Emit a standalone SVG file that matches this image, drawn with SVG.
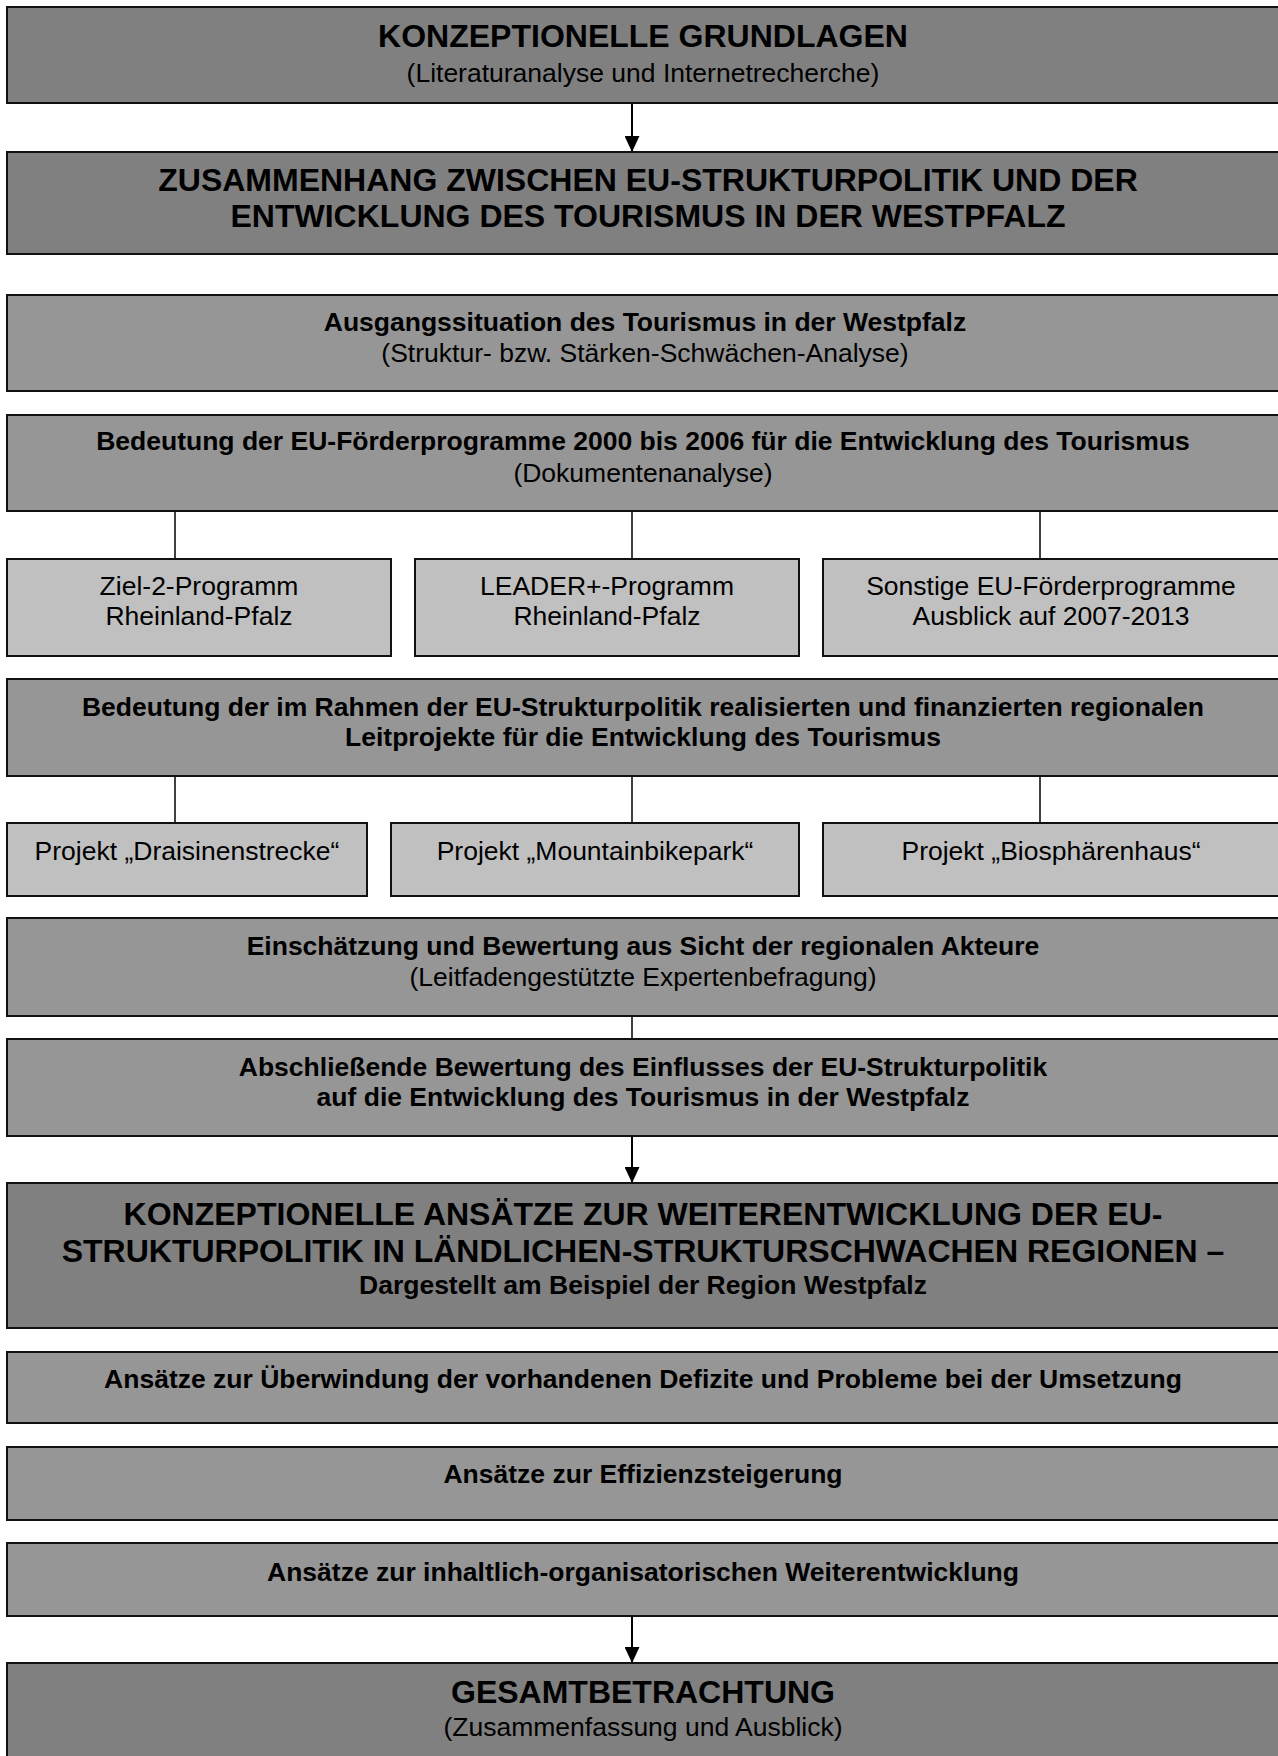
<svg xmlns="http://www.w3.org/2000/svg" width="1278" height="1756" viewBox="0 0 1278 1756">
<style>
.box{stroke:#111;stroke-width:2}
.dark{fill:#808080}
.mid{fill:#969696}
.light{fill:#c0c0c0}
text{font-family:"Liberation Sans",Arial,sans-serif;fill:#000;text-anchor:middle}
.t1{font-size:32px;font-weight:bold}
.t2{font-size:26.5px;font-weight:bold}
.t3{font-size:26.5px}
.con{stroke:#000;stroke-width:1.5;fill:none}
.arr{stroke:#000;stroke-width:2;fill:none;marker-end:url(#ah)}
</style>
<defs>
<marker id="ah" viewBox="0 0 16 15" refX="16" refY="7.5" markerWidth="16" markerHeight="15" markerUnits="userSpaceOnUse" orient="auto">
<path d="M0,0 L16,7.5 L0,15 z" fill="#000"/>
</marker>
</defs>
<rect width="1278" height="1756" fill="#fff"/>
<g id="connectors">
<line class="arr" x1="632" y1="104" x2="632" y2="152"/>
<line class="con" x1="175" y1="511" x2="175" y2="559"/>
<line class="con" x1="632" y1="511" x2="632" y2="559"/>
<line class="con" x1="1040" y1="511" x2="1040" y2="559"/>
<line class="con" x1="175" y1="776" x2="175" y2="823"/>
<line class="con" x1="632" y1="776" x2="632" y2="823"/>
<line class="con" x1="1040" y1="776" x2="1040" y2="823"/>
<line class="con" x1="632" y1="1016" x2="632" y2="1039"/>
<line class="arr" x1="632" y1="1136" x2="632" y2="1183"/>
<line class="arr" x1="632" y1="1616" x2="632" y2="1663"/>
</g>
<g id="n1">
<rect class="box dark" x="7" y="7" width="1273" height="96"/>
<text class="t1" x="643" y="47">KONZEPTIONELLE GRUNDLAGEN</text>
<text class="t3" x="643" y="82">(Literaturanalyse und Internetrecherche)</text>
</g>
<g id="n2">
<rect class="box dark" x="7" y="152" width="1273" height="102"/>
<text class="t1" x="648" y="191">ZUSAMMENHANG ZWISCHEN EU-STRUKTURPOLITIK UND DER</text>
<text class="t1" x="648" y="227">ENTWICKLUNG DES TOURISMUS IN DER WESTPFALZ</text>
</g>
<g id="n3">
<rect class="box mid" x="7" y="295" width="1273" height="96"/>
<text class="t2" x="645" y="331">Ausgangssituation des Tourismus in der Westpfalz</text>
<text class="t3" x="645" y="362">(Struktur- bzw. Stärken-Schwächen-Analyse)</text>
</g>
<g id="n4">
<rect class="box mid" x="7" y="415" width="1273" height="96"/>
<text class="t2" x="643" y="450">Bedeutung der EU-Förderprogramme 2000 bis 2006 für die Entwicklung des Tourismus</text>
<text class="t3" x="643" y="482">(Dokumentenanalyse)</text>
</g>
<g id="n4a">
<rect class="box light" x="7" y="559" width="384" height="97"/>
<text class="t3" x="199" y="595">Ziel-2-Programm</text>
<text class="t3" x="199" y="625">Rheinland-Pfalz</text>
</g>
<g id="n4b">
<rect class="box light" x="415" y="559" width="384" height="97"/>
<text class="t3" x="607" y="595">LEADER+-Programm</text>
<text class="t3" x="607" y="625">Rheinland-Pfalz</text>
</g>
<g id="n4c">
<rect class="box light" x="823" y="559" width="457" height="97"/>
<text class="t3" x="1051" y="595">Sonstige EU-Förderprogramme</text>
<text class="t3" x="1051" y="625">Ausblick auf 2007-2013</text>
</g>
<g id="n5">
<rect class="box mid" x="7" y="679" width="1273" height="97"/>
<text class="t2" x="643" y="716">Bedeutung der im Rahmen der EU-Strukturpolitik realisierten und finanzierten regionalen</text>
<text class="t2" x="643" y="746">Leitprojekte für die Entwicklung des Tourismus</text>
</g>
<g id="n5a">
<rect class="box light" x="7" y="823" width="360" height="73"/>
<text class="t3" x="187" y="860">Projekt „Draisinenstrecke“</text>
</g>
<g id="n5b">
<rect class="box light" x="391" y="823" width="408" height="73"/>
<text class="t3" x="595" y="860">Projekt „Mountainbikepark“</text>
</g>
<g id="n5c">
<rect class="box light" x="823" y="823" width="457" height="73"/>
<text class="t3" x="1051" y="860">Projekt „Biosphärenhaus“</text>
</g>
<g id="n6">
<rect class="box mid" x="7" y="918" width="1273" height="98"/>
<text class="t2" x="643" y="955">Einschätzung und Bewertung aus Sicht der regionalen Akteure</text>
<text class="t3" x="643" y="986">(Leitfadengestützte Expertenbefragung)</text>
</g>
<g id="n7">
<rect class="box mid" x="7" y="1039" width="1273" height="97"/>
<text class="t2" x="643" y="1076">Abschließende Bewertung des Einflusses der EU-Strukturpolitik</text>
<text class="t2" x="643" y="1106">auf die Entwicklung des Tourismus in der Westpfalz</text>
</g>
<g id="n8">
<rect class="box dark" x="7" y="1183" width="1273" height="145"/>
<text class="t1" x="643" y="1225">KONZEPTIONELLE ANSÄTZE ZUR WEITERENTWICKLUNG DER EU-</text>
<text class="t1" x="643" y="1262">STRUKTURPOLITIK IN LÄNDLICHEN-STRUKTURSCHWACHEN REGIONEN –</text>
<text class="t2" x="643" y="1294">Dargestellt am Beispiel der Region Westpfalz</text>
</g>
<g id="n9">
<rect class="box mid" x="7" y="1352" width="1273" height="71"/>
<text class="t2" x="643" y="1388">Ansätze zur Überwindung der vorhandenen Defizite und Probleme bei der Umsetzung</text>
</g>
<g id="n10">
<rect class="box mid" x="7" y="1447" width="1273" height="73"/>
<text class="t2" x="643" y="1483">Ansätze zur Effizienzsteigerung</text>
</g>
<g id="n11">
<rect class="box mid" x="7" y="1543" width="1273" height="73"/>
<text class="t2" x="643" y="1581">Ansätze zur inhaltlich-organisatorischen Weiterentwicklung</text>
</g>
<g id="n12">
<rect class="box dark" x="7" y="1663" width="1273" height="110"/>
<text class="t1" x="643" y="1703">GESAMTBETRACHTUNG</text>
<text class="t3" x="643" y="1736">(Zusammenfassung und Ausblick)</text>
</g>
</svg>
